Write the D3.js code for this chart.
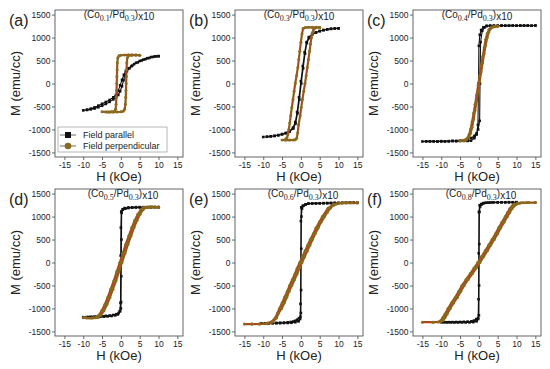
<!DOCTYPE html>
<html>
<head>
<meta charset="utf-8">
<title>Co/Pd multilayer hysteresis loops</title>
<script src="https://d3js.org/d3.v7.min.js"></script>
<style>
    body { margin: 0; background: #fff; }
    svg text { font-family: Arial, "Liberation Sans", sans-serif; fill: #222; }
    .axis .tick text { font-size: 8.5px; }
    .axis line { stroke: #444; stroke-width: 0.8px; }
    .frame { fill: none; stroke: #555; stroke-width: 0.9px; }
    .label { font-size: 13px; }
    .panel-id { font-size: 16px; }
    .title { font-size: 10px; }
    .sub { font-family: "Liberation Serif", "Times New Roman", serif; font-size: 8px; }
    .legend text { font-size: 9px; }
</style>
</head>
<body>
<svg width="550" height="369"></svg>
<script>
// H in kOe, M in emu/cc. each loop: descending branch then ascending branch
var fieldTicks = [-15, -10, -5, 0, 5, 10, 15];
var momentTicks = [-1500, -1000, -500, 0, 500, 1000, 1500];
var panelIds = ["(a)", "(b)", "(c)", "(d)", "(e)", "(f)"];
var coThickness = ["0.1", "0.3", "0.4", "0.5", "0.6", "0.8"];
var legendNames = ["Field parallel", "Field perpendicular"];

var parA = [[10,595],[9,590],[8,575],[7,550],[6,520],[5,490],[4,450],[3,390],[2.3,335],[1.6,265],[1.1,170],[0.7,70],[0.3,-60],[-0.2,-170],[-0.7,-250],[-1.3,-300],[-2,-345],[-3,-400],[-4,-445],[-5,-485],[-6,-518],[-7,-545],[-8,-563],[-9,-576],[-10,-585],
    [-9,-570],[-8,-548],[-7,-520],[-6,-482],[-5,-442],[-4,-402],[-3,-360],[-2,-300],[-1.3,-245],[-0.7,-160],[-0.2,-40],[0.3,80],[0.8,190],[1.3,270],[2,330],[2.8,375],[3.5,420],[4.5,460],[5.5,500],[6.5,530],[7.5,555],[8.5,578],[9.3,590],[10,595]];
var perpA = [[5,615],[4,620],[3,622],[2,622],[1,620],[0,615],[-0.5,605],[-0.8,560],[-0.95,450],[-1,300],[-1.05,150],[-1.1,0],[-1.15,-150],[-1.2,-300],[-1.28,-450],[-1.4,-560],[-1.7,-605],[-2.5,-615],[-3.5,-618],[-5,-615],
    [-4,-620],[-3,-622],[-2,-622],[-1,-620],[0,-615],[0.6,-605],[1,-560],[1.2,-450],[1.3,-300],[1.35,-150],[1.4,0],[1.45,150],[1.5,300],[1.58,450],[1.7,560],[2,605],[2.8,615],[4,620],[5,615]];

var parB = [[10,1200],[9,1198],[8,1190],[7,1180],[6,1162],[5,1140],[4,1110],[3,1068],[2.2,990],[1.6,880],[1.1,650],[0.6,330],[0.1,0],[-0.4,-350],[-0.9,-650],[-1.4,-870],[-2,-980],[-3,-1050],[-4,-1085],[-5,-1108],[-6,-1128],[-7,-1143],[-8,-1153],[-9,-1160],[-10,-1165],
    [-9,-1158],[-8,-1148],[-7,-1138],[-6,-1122],[-5,-1100],[-4,-1075],[-3,-1030],[-2.1,-960],[-1.5,-840],[-1,-620],[-0.5,-300],[0,50],[0.5,380],[1,680],[1.5,900],[2.1,1010],[3,1075],[4,1112],[5,1142],[6,1162],[7,1178],[8,1190],[9,1197],[10,1200]];
var perpB = [[5,1220],[4,1222],[3,1222],[2,1222],[1.2,1218],[0.6,1200],[0.3,1080],[0,900],[-0.3,700],[-0.55,520],[-0.8,350],[-1.15,170],[-1.5,0],[-1.8,-170],[-2.1,-350],[-2.4,-520],[-2.7,-700],[-2.95,-860],[-3.2,-1000],[-3.45,-1110],[-3.7,-1180],[-4.3,-1225],[-5,-1230],
    [-4,-1232],[-3,-1232],[-2,-1230],[-1.5,-1222],[-1.1,-1190],[-0.85,-1080],[-0.6,-900],[-0.2,-700],[0.1,-520],[0.4,-350],[0.75,-170],[1.1,0],[1.4,170],[1.7,350],[2,520],[2.3,700],[2.55,860],[2.8,1000],[3.1,1110],[3.4,1180],[4.1,1218],[5,1220]];

var parC = [[15,1262],[14,1258],[13,1262],[12,1260],[11,1263],[10,1258],[9,1262],[8,1260],[7,1258],[6,1260],[5,1257],[4,1256],[3,1254],[2,1248],[1.2,1225],[0.6,1165],[0.25,1060],[0,820],[-0.1,0],[-0.25,-900],[-0.6,-1110],[-1.2,-1190],[-2.1,-1245],[-3,-1250],[-4,-1250],[-5,-1252],[-6,-1255],[-7,-1250],[-8,-1258],[-9,-1262],[-10,-1255],[-11,-1265],[-12,-1258],[-13,-1262],[-14,-1258],[-15,-1262],
    [-14,-1260],[-13,-1258],[-12,-1262],[-11,-1258],[-10,-1262],[-9,-1258],[-8,-1255],[-7,-1252],[-6,-1250],[-5,-1245],[-4,-1238],[-3,-1222],[-2,-1185],[-1.2,-1140],[-0.6,-1080],[-0.2,-1000],[0.2,-813],[0.3,0],[0.45,900],[0.9,1147],[1.5,1220],[2.1,1256],[3,1258],[4,1260],[5,1258],[6,1262],[7,1260],[8,1258],[9,1262],[10,1260],[11,1258],[12,1262],[13,1260],[14,1258],[15,1262]];
var perpC = [[5,1245],[4,1238],[3.3,1222],[2.7,1175],[2.2,1085],[1.8,960],[1.4,780],[1,580],[0.6,380],[0.2,170],[-0.2,-40],[-0.6,-250],[-1,-450],[-1.4,-650],[-1.8,-830],[-2.2,-990],[-2.6,-1110],[-3.1,-1190],[-3.7,-1228],[-4.3,-1240],[-5,-1245],
    [-4,-1238],[-3.3,-1222],[-2.7,-1175],[-2.2,-1085],[-1.8,-960],[-1.4,-780],[-1,-580],[-0.6,-380],[-0.2,-170],[0.2,40],[0.6,250],[1,450],[1.4,650],[1.8,830],[2.2,990],[2.6,1110],[3.1,1190],[3.7,1228],[4.3,1240],[5,1245]];

var parD = [[10,1205],[9,1205],[8,1203],[7,1202],[6,1200],[5,1198],[4,1196],[3,1192],[2,1185],[1.2,1172],[0.5,1150],[0.1,1110],[0,760],[-0.05,150],[-0.1,-880],[-0.3,-1060],[-0.8,-1130],[-1.5,-1150],[-2.5,-1165],[-3.5,-1172],[-4.5,-1178],[-5.5,-1180],[-6.5,-1183],[-7.5,-1186],[-8.5,-1188],[-10,-1190],
    [-9,-1186],[-8,-1182],[-7,-1178],[-6,-1173],[-5,-1168],[-4,-1162],[-3,-1155],[-2,-1142],[-1.2,-1125],[-0.6,-1100],[-0.2,-1060],[0,-1000],[0.05,-860],[0.1,-300],[0.15,500],[0.2,1080],[0.5,1160],[1,1185],[2,1198],[3,1202],[4,1204],[5,1205],[6,1205],[7,1206],[8,1206],[9,1205],[10,1205]];
var perpD = [[10,1205],[9,1208],[7.7,1210],[6.7,1205],[6,1195],[5.3,1150],[4.5,1050],[3.7,920],[2.9,760],[2.1,580],[1.3,400],[0.5,200],[-0.3,0],[-1.1,-200],[-1.9,-400],[-2.7,-580],[-3.5,-760],[-4.3,-920],[-5.1,-1050],[-5.9,-1150],[-6.6,-1195],[-7.3,-1205],[-8.3,-1210],[-9.3,-1205],[-10,-1200],
    [-9,-1208],[-7.7,-1210],[-6.7,-1205],[-6,-1195],[-5.3,-1150],[-4.5,-1050],[-3.7,-920],[-2.9,-760],[-2.1,-580],[-1.3,-400],[-0.5,-200],[0.3,0],[1.1,200],[1.9,400],[2.7,580],[3.5,760],[4.3,920],[5.1,1050],[5.9,1150],[6.6,1195],[7.3,1205],[8.3,1210],[9.3,1205],[10,1205]];

var parE = [[15,1300],[14,1300],[13,1300],[12,1298],[11,1297],[10,1296],[9,1295],[8,1293],[7,1292],[6,1290],[5,1288],[4,1286],[3,1284],[2,1280],[1.2,1262],[0.5,1235],[0.1,1200],[0,900],[-0.05,0],[-0.1,-900],[-0.2,-1230],[-0.6,-1280],[-1.5,-1300],[-2.5,-1312],[-3.5,-1316],[-4.5,-1318],[-5.5,-1320],[-6.5,-1322],[-7.5,-1322],[-8.5,-1324],[-9.5,-1325],[-10.5,-1325],
    [-9.5,-1323],[-8.5,-1320],[-7.5,-1318],[-6.5,-1315],[-5.5,-1312],[-4.5,-1308],[-3.5,-1302],[-2.7,-1295],[-2,-1285],[-1.5,-1270],[-1,-1245],[-0.5,-1212],[-0.1,-1180],[0,-1100],[0.05,-600],[0.1,300],[0.15,1000],[0.3,1175],[0.7,1235],[1.3,1265],[2,1283],[3,1286],[4,1288],[5,1290],[6,1292],[7,1293],[8,1295],[9,1296],[10,1297],[11,1298],[12,1299],[13,1300],[14,1300],[15,1300]];
var perpE = [[15,1300],[13.5,1300],[11.7,1300],[10.2,1295],[8.7,1270],[7.2,1180],[5.7,1000],[4.9,880],[4,750],[3.3,625],[2.5,500],[1.8,375],[1.1,250],[0.4,125],[-0.3,0],[-1,-125],[-1.6,-250],[-2.3,-375],[-3,-500],[-3.6,-625],[-4.3,-750],[-5,-880],[-5.7,-1000],[-6.2,-1100],[-6.8,-1200],[-7.8,-1290],[-9.3,-1330],[-11,-1338],[-13,-1340],[-15,-1340],
    [-13,-1340],[-11,-1338],[-9,-1332],[-7.5,-1295],[-6.5,-1210],[-5.9,-1100],[-5.1,-1000],[-4.4,-880],[-3.7,-750],[-3.1,-625],[-2.4,-500],[-1.7,-375],[-1,-250],[-0.4,-125],[0.3,0],[1,125],[1.7,250],[2.4,375],[3.1,500],[3.8,625],[4.6,750],[5.4,880],[6.3,1000],[7.1,1100],[7.8,1180],[8.6,1240],[9.3,1270],[10.8,1295],[12.3,1300],[13.5,1300],[15,1300]];

var parF = [[10,1312],[9,1310],[8,1312],[7,1310],[6,1310],[5,1308],[4,1307],[3,1305],[2,1302],[1.2,1292],[0.6,1272],[0.2,1245],[0,1100],[-0.05,200],[-0.1,-800],[-0.2,-1230],[-0.6,-1280],[-1.5,-1298],[-2.5,-1303],[-3.5,-1305],[-4.5,-1305],[-5.5,-1306],[-6.5,-1305],[-7.5,-1304],[-8.5,-1303],[-9.5,-1302],[-10,-1300],
    [-9,-1300],[-8,-1299],[-7,-1298],[-6,-1296],[-5,-1294],[-4,-1291],[-3,-1287],[-2,-1280],[-1.3,-1265],[-0.7,-1232],[-0.2,-1212],[0,-1150],[0.05,-500],[0.1,400],[0.15,1100],[0.35,1220],[0.7,1262],[1.1,1285],[1.6,1298],[2.5,1305],[3.5,1308],[5,1310],[6,1311],[7,1311],[8,1312],[9,1312],[10,1312]];
var perpF = [[15,1305],[12.7,1305],[11.2,1300],[10.2,1290],[9.3,1265],[8.8,1230],[8.2,1170],[7.6,1090],[7,1000],[6.1,875],[5.2,750],[4.4,625],[3.5,500],[2.6,380],[1.7,260],[0.7,130],[-0.3,0],[-1.3,-120],[-2.3,-240],[-3.4,-370],[-4.5,-500],[-5.4,-630],[-6.3,-760],[-7.3,-880],[-8.2,-1000],[-9,-1120],[-9.6,-1200],[-10.1,-1260],[-10.8,-1295],[-12.3,-1300],[-15,-1300],
    [-12,-1300],[-10.2,-1295],[-9.5,-1260],[-9,-1200],[-8.4,-1120],[-7.6,-1000],[-6.7,-880],[-5.7,-760],[-4.8,-630],[-3.9,-500],[-2.8,-370],[-1.7,-240],[-0.7,-120],[0.3,0],[1.3,130],[2.3,260],[3.2,380],[4.1,500],[5,625],[5.8,750],[6.7,875],[7.6,1000],[8.2,1090],[8.8,1170],[9.4,1230],[9.9,1265],[10.8,1290],[11.8,1300],[13.3,1305],[15,1305]];

var panels = [
    { id: panelIds[0], co: coThickness[0], par: parA, perp: perpA },
    { id: panelIds[1], co: coThickness[1], par: parB, perp: perpB },
    { id: panelIds[2], co: coThickness[2], par: parC, perp: perpC },
    { id: panelIds[3], co: coThickness[3], par: parD, perp: perpD },
    { id: panelIds[4], co: coThickness[4], par: parE, perp: perpE },
    { id: panelIds[5], co: coThickness[5], par: parF, perp: perpF }
];

var svg = d3.select("svg");
var boxW = 128, boxH = 147;
var colLeft = [55, 235, 413], rowTop = [10, 189];
var xTitleGap = [24, 24], titleShift = [0, 4];
var black = "#111", olive = "#8a6a1c", red = "#d91e24";

panels.forEach(function (p, i) {
    var col = i % 3, row = Math.floor(i / 3);
    var left = colLeft[col], top = rowTop[row];

    var x = d3.scaleLinear().domain([-17.5, 16.5]).range([left, left + boxW]);
    var y = d3.scaleLinear().domain([-1600, 1600]).range([top + boxH, top]);
    var g = svg.append("g");

    g.append("g").attr("class", "axis")
        .attr("transform", "translate(0," + (top + boxH) + ")")
        .call(d3.axisBottom(x).tickValues(fieldTicks).tickSize(3).tickPadding(1.5)
            .tickFormat(function (d) { return String(d); }))
        .call(function (a) { a.select(".domain").remove(); });

    g.append("g").attr("class", "axis")
        .attr("transform", "translate(" + left + ",0)")
        .call(d3.axisLeft(y).tickValues(momentTicks).tickSize(3).tickPadding(1.5)
            .tickFormat(function (d) { return String(d); }))
        .call(function (a) { a.select(".domain").remove(); });

    g.append("rect").attr("class", "frame")
        .attr("x", left).attr("y", top).attr("width", boxW).attr("height", boxH);

    var line = d3.line().x(function (d) { return x(d[0]); }).y(function (d) { return y(d[1]); });

    // field parallel
    g.append("path").datum(p.par).attr("d", line)
        .attr("fill", "none").attr("stroke", black).attr("stroke-width", 1.1);
    g.selectAll(".sq").data(p.par).enter().append("rect")
        .attr("x", function (d) { return x(d[0]) - 1.3; })
        .attr("y", function (d) { return y(d[1]) - 1.3; })
        .attr("width", 2.6).attr("height", 2.6).attr("fill", black);

    // field perpendicular
    g.append("path").datum(p.perp).attr("d", line)
        .attr("fill", "none").attr("stroke", olive).attr("stroke-width", 2.2);
    g.append("path").datum(p.perp).attr("d", line)
        .attr("fill", "none").attr("stroke", red).attr("stroke-width", 0.8).attr("opacity", 0.75);
    g.selectAll(".dot").data(p.perp).enter().append("circle")
        .attr("cx", function (d) { return x(d[0]); })
        .attr("cy", function (d) { return y(d[1]); })
        .attr("r", 1.5).attr("fill", olive);

    // texts
    g.append("text").attr("class", "panel-id")
        .attr("x", left - 46).attr("y", top + 16).text(p.id);

    g.append("text").attr("class", "label")
        .attr("text-anchor", "middle")
        .attr("transform", "translate(" + (left - 35) + "," + (top + boxH / 2) + ") rotate(-90)")
        .text("M (emu/cc)");

    g.append("text").attr("class", "label")
        .attr("text-anchor", "middle")
        .attr("x", left + boxW / 2).attr("y", top + boxH + xTitleGap[row])
        .text("H (kOe)");

    var t = g.append("text").attr("class", "title")
        .attr("text-anchor", "middle")
        .attr("x", left + boxW / 2 + titleShift[row]).attr("y", top + 8);
    t.append("tspan").text("(Co");
    t.append("tspan").attr("class", "sub").attr("dy", 2.5).text(p.co);
    t.append("tspan").attr("dy", -2.5).text("/Pd");
    t.append("tspan").attr("class", "sub").attr("dy", 2.5).text("0.3");
    t.append("tspan").attr("dy", -2.5).text(")");
    t.append("tspan").attr("dy", 2).text("x10");

    if (i === 0) {
        var lg = g.append("g").attr("class", "legend");
        lg.append("rect").attr("x", left + 3).attr("y", top + 117)
            .attr("width", 109).attr("height", 25)
            .attr("fill", "#fff").attr("stroke", "#999").attr("stroke-width", 0.7);
        legendNames.forEach(function (name, k) {
            var ly = top + 125 + k * 11;
            var c = k === 0 ? black : olive;
            lg.append("line").attr("x1", left + 5).attr("x2", left + 21)
                .attr("y1", ly).attr("y2", ly).attr("stroke", "#444").attr("stroke-width", 0.8);
            if (k === 0) {
                lg.append("rect").attr("x", left + 10).attr("y", ly - 3)
                    .attr("width", 6).attr("height", 6).attr("fill", c);
            } else {
                lg.append("circle").attr("cx", left + 13).attr("cy", ly)
                    .attr("r", 3.3).attr("fill", c);
            }
            lg.append("text").attr("x", left + 28).attr("y", ly + 3.2).text(name);
        });
    }
});
</script>
</body>
</html>
